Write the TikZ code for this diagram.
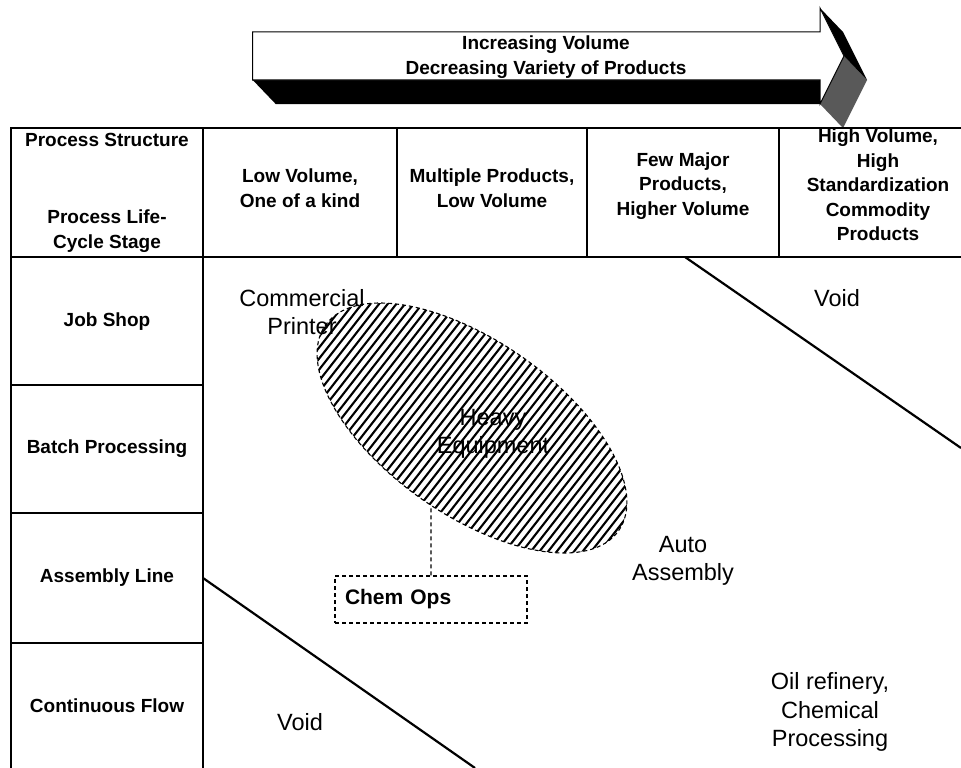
\documentclass[tikz,border=0pt]{standalone}
\usepackage{fontspec}
\setmainfont{Liberation Sans}
\usetikzlibrary{intersections}

\begin{document}
\begin{tikzpicture}[x=1pt,y=1pt,
  hdr/.style={font=\bfseries\fontsize{19}{24.5}\selectfont, align=center, inner sep=0pt},
  lbl/.style={font=\fontsize{23.5}{28.5}\selectfont, align=center, inner sep=0pt},
  grid/.style={line width=1.2pt},
  boundary/.style={line width=2.2pt},
  hatchline/.style={line width=2.1pt},
  dashline/.style={dash pattern=on 4pt off 3pt, line width=1.1pt}]
\useasboundingbox (0,0) rectangle (961,-768);
\fill[white] (0,0) rectangle (961,-768);

% three-dimensional block arrow: hidden faces first, then the white front face
\fill[black] (252.7,-80) -- (820,-80) -- (843,-104) -- (275.7,-104) -- cycle;
\fill[black!65] (844,-56) -- (820,-104) -- (843,-128) -- (867,-80) -- cycle;
\fill[black] (820,-8) -- (844,-56) -- (867,-80) -- (843,-32) -- cycle;
\draw[fill=white, line width=1pt, line join=miter]
  (252.7,-32) -- (820,-32) -- (820,-8) -- (844,-56) -- (820,-104) -- (820,-80) -- (252.7,-80) -- cycle;
\node[hdr] (arrowtxt) at (546,-57) {Increasing Volume\\Decreasing Variety of Products};

% table frame
\draw[grid] (11,-768) -- (11,-128) -- (961,-128);
\draw[grid] (11,-257) -- (961,-257);
\draw[grid] (203,-128) -- (203,-768);
\foreach \x in {397,587,779} \draw[grid] (\x,-128) -- (\x,-257);
\foreach \y in {385,513,643} \draw[grid] (11,-\y) -- (203,-\y);

% header cells
\node[hdr] (ps) at (107,-140) {Process Structure};
\node[hdr] (plc) at (107,-231) {Process Life-\\Cycle Stage};
\node[hdr] (c1) at (300,-188) {Low Volume,\\One of a kind};
\node[hdr] (c2) at (492,-188) {Multiple Products,\\Low Volume};
\node[hdr] (c3) at (683,-186) {Few Major\\Products,\\Higher Volume};
\node[hdr] (c4) at (878,-185) {High Volume,\\High\\Standardization\\Commodity\\Products};

% life-cycle stages
\node[hdr] (r1) at (107,-322) {Job Shop};
\node[hdr] (r2) at (107,-449) {Batch Processing};
\node[hdr] (r3) at (107,-578) {Assembly Line};
\node[hdr] (r4) at (107,-706) {Continuous Flow};

% limits of the feasible diagonal
\coordinate (ua) at (685,-257);
\coordinate (ub) at (961,-448);
\draw[boundary] (ua) -- (ub);
\coordinate (la) at (203,-578);
\coordinate (lb) at (475,-768);
\draw[boundary] (la) -- (lb);

% example industries
\node[lbl] (printer) at (302,-312) {Commercial\\Printer};
\node[lbl] (heavy) at (493,-434) {Heavy\\Equipment};
\node[lbl] (auto) at (683,-561) {Auto\\Assembly};
\node[lbl] (voidu) at (837,-298) {Void};
\node[lbl] (voidl) at (300,-722) {Void};
\node[lbl] (oil) at (830,-712) {Oil refinery,\\Chemical\\Processing};

% hatched region laid over its labels
\begin{scope}
  \clip[rotate around={-35:(472,-428)}] (472,-428) ellipse [x radius=179, y radius=87];
  \begin{scope}[rotate around={52:(472,-428)}]
    \foreach \k in {-28,...,28}
      \draw[hatchline] (172,-428+\k*6.8) -- (772,-428+\k*6.8);
  \end{scope}
\end{scope}
\path[name path=ellp, draw, dashline, rotate around={-35:(472,-428)}]
  (472,-428) ellipse [x radius=179, y radius=87];

% callout box
\node[draw, dashline, font=\bfseries\fontsize{21}{25}\selectfont,
      minimum width=192pt, minimum height=47pt, text width=172pt,
      inner xsep=10pt, align=left] (chem) at (431,-599.5) {Chem Ops};
\path[name path=vline] (chem.north) -- ++(0,120);
\draw[dashline, name intersections={of=ellp and vline, by=ellhit}] (chem.north) -- (ellhit);
\end{tikzpicture}
\end{document}
